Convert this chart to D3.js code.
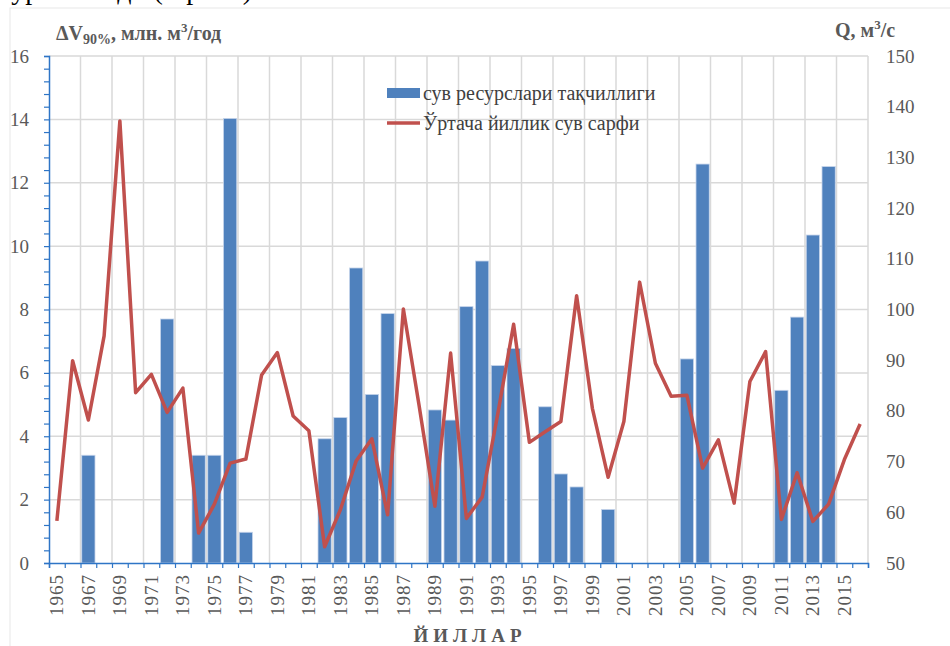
<!DOCTYPE html>
<html>
<head>
<meta charset="utf-8">
<script src="https://cdn.jsdelivr.net/npm/d3@7"></script>
<style>
  body { margin: 0; background: #fff; }
</style>
</head>
<body>
<svg width="950" height="646"></svg>
<script>
const years = d3.range(1965, 2017);
// сув ресурслари тақчиллиги, млн. м3/год (null = no deficit)
const deficit = [
  null, null, 3.4, null, null, null, null, 7.7, null, 3.4,
  3.4, 14.03, 0.97, null, null, null, null, 3.92, 4.59, 9.31,
  5.32, 7.87, null, null, 4.83, 4.51, 8.09, 9.53, 6.23, 6.77,
  null, 4.93, 2.81, 2.4, null, 1.69, null, null, null, null,
  6.44, 12.59, null, null, null, null, 5.45, 7.76, 10.35, 12.51,
  null, null
];
// Ўртача йиллик сув сарфи, м3/с
const discharge = [
  58.3, 89.9, 78.2, 94.8, 137.2, 83.6, 87.2, 79.7, 84.5, 55.9,
  61.6, 69.7, 70.5, 87.1, 91.5, 79.0, 76.1, 53.2, 60.5, 70.1,
  74.5, 59.5, 100.1, 81.0, 61.2, 91.4, 58.8, 63.0, 79.5, 97.1,
  73.8, 75.9, 77.9, 102.7, 80.5, 66.9, 77.9, 105.4, 89.4, 82.9,
  83.1, 68.7, 74.3, 61.8, 85.8, 91.7, 58.6, 67.8, 58.2, 61.6,
  70.4, 77.4
];
const leftTicks = d3.range(0, 17, 2);
const rightTicks = d3.range(50, 151, 10);
const legendLabels = ['сув ресурслари тақчиллиги', 'Ўртача йиллик сув сарфи'];

const svg = d3.select('svg');
const margin = { top: 56, right: 82, bottom: 83, left: 49 };
const width = 950, height = 646;
const innerWidth = width - margin.left - margin.right;
const innerHeight = height - margin.top - margin.bottom;

const blue = '#4F81BD';
const red = '#C0504D';
const axisBlue = '#2E75C6';
const grid = '#d9d9d9';
const textGray = '#595959';
const serif = "'Liberation Serif', 'Times New Roman', serif";

// chart frame
svg.append('rect')
  .attr('x', 10).attr('y', 8)
  .attr('width', 960).attr('height', 700)
  .attr('fill', 'none').attr('stroke', '#e8e8e8');

// document text above the chart, cropped by the page edge
svg.append('text')
  .attr('x', -2).attr('y', -1)
  .attr('font-size', 28).attr('fill', '#000')
  .text('курсатилади (5-расм)');

const g = svg.append('g').attr('transform', `translate(${margin.left},${margin.top})`);

const xScale = d3.scaleBand().domain(years).range([0, innerWidth])
  .paddingInner(0.16).paddingOuter(0.08);
const edge = d3.scaleLinear().domain([0, years.length]).range([0, innerWidth]);
const yLeft = d3.scaleLinear().domain([0, 16]).range([innerHeight, 0]);
const yRight = d3.scaleLinear().domain([50, 150]).range([innerHeight, 0]);

// horizontal gridlines
g.append('g').selectAll('line').data(leftTicks.slice(1)).join('line')
  .attr('x1', 0).attr('x2', innerWidth)
  .attr('y1', d => yLeft(d)).attr('y2', d => yLeft(d))
  .attr('stroke', grid).attr('stroke-width', 1.5);

// vertical gridlines every two years
g.append('g').selectAll('line').data(d3.range(2, years.length + 1, 2)).join('line')
  .attr('x1', d => edge(d)).attr('x2', d => edge(d))
  .attr('y1', 0).attr('y2', innerHeight)
  .attr('stroke', grid).attr('stroke-width', 1.5);

// bars
const barData = years.map((y, i) => ({ year: y, v: deficit[i] })).filter(d => d.v != null);
g.append('g').selectAll('rect').data(barData).join('rect')
  .attr('x', d => xScale(d.year))
  .attr('y', d => yLeft(d.v))
  .attr('width', xScale.bandwidth())
  .attr('height', d => yLeft(0) - yLeft(d.v))
  .attr('fill', blue)
  .attr('stroke', '#c5d4ea').attr('stroke-width', 0.8);

// line
const line = d3.line()
  .x((d, i) => xScale(years[i]) + xScale.bandwidth() / 2)
  .y(d => yRight(d));
g.append('path').datum(discharge)
  .attr('d', line)
  .attr('fill', 'none')
  .attr('stroke', red)
  .attr('stroke-width', 3.5)
  .attr('stroke-linejoin', 'round');

// left axis: minor ticks every 0.4, labels every 2
const yAxis = g.append('g')
  .call(d3.axisLeft(yLeft).tickValues(d3.range(0, 16.01, 0.4)).tickSize(5).tickPadding(15)
    .tickFormat(d => (Math.abs(d - Math.round(d)) < 1e-6 && Math.round(d) % 2 === 0) ? Math.round(d) : ''));
yAxis.select('.domain').attr('stroke', axisBlue).attr('stroke-width', 1.5);
yAxis.selectAll('.tick line').attr('stroke', axisBlue).attr('stroke-width', 1.2);
yAxis.selectAll('text').filter(function () { return this.textContent === ''; }).remove();
yAxis.selectAll('text').attr('font-size', 19).attr('fill', textGray);

// right axis (labels only)
const yAxisR = g.append('g').attr('transform', `translate(${innerWidth},0)`)
  .call(d3.axisRight(yRight).tickValues(rightTicks).tickSize(0).tickPadding(18));
yAxisR.select('.domain').remove();
yAxisR.selectAll('text').attr('font-size', 19).attr('fill', textGray);

// x axis ticks at every year boundary
const xTicks = g.append('g').attr('transform', `translate(0,${innerHeight})`)
  .call(d3.axisBottom(edge).tickValues(d3.range(0, years.length + 1)).tickSize(5).tickFormat(''));
xTicks.select('.domain').attr('stroke', axisBlue).attr('stroke-width', 1.5);
xTicks.selectAll('.tick line').attr('stroke', axisBlue).attr('stroke-width', 1.2);
xTicks.selectAll('text').remove();

// x labels, every other year, rotated
const xLabels = g.append('g').attr('transform', `translate(0,${innerHeight})`)
  .call(d3.axisBottom(xScale).tickValues(years.filter((y, i) => i % 2 === 0)).tickSize(0));
xLabels.select('.domain').remove();
xLabels.selectAll('text')
  .attr('transform', 'rotate(-90)')
  .attr('x', -11).attr('y', 0).attr('dy', '0.33em')
  .style('text-anchor', 'end')
  .attr('font-size', 19).attr('fill', textGray)
  .attr('letter-spacing', 1);

// axis titles
const leftTitle = svg.append('text')
  .attr('x', 56).attr('y', 40)
  .attr('font-size', 20).attr('font-weight', 'bold').attr('fill', textGray);
leftTitle.append('tspan').text('ΔV');
leftTitle.append('tspan').attr('font-size', 14).attr('dy', 4).text('90%');
leftTitle.append('tspan').attr('dy', -4).text(', млн. м');
leftTitle.append('tspan').attr('font-size', 13).attr('dy', -8).text('3');
leftTitle.append('tspan').attr('dy', 8).text('/год');

const rightTitle = svg.append('text')
  .attr('x', 835).attr('y', 37)
  .attr('font-size', 20).attr('font-weight', 'bold').attr('fill', textGray);
rightTitle.append('tspan').text('Q, м');
rightTitle.append('tspan').attr('font-size', 13).attr('dy', -8).text('3');
rightTitle.append('tspan').attr('dy', 8).text('/с');

svg.append('text')
  .attr('x', 470).attr('y', 642)
  .attr('text-anchor', 'middle')
  .attr('font-size', 19).attr('font-weight', 'bold').attr('fill', textGray)
  .attr('letter-spacing', 5)
  .text('ЙИЛЛАР');

// legend
const legend = svg.append('g').attr('transform', 'translate(387,0)');
legend.append('rect').attr('x', 0).attr('y', 88).attr('width', 33).attr('height', 10).attr('fill', blue);
legend.append('line').attr('x1', 0).attr('x2', 33).attr('y1', 123).attr('y2', 123)
  .attr('stroke', red).attr('stroke-width', 3.5);
legend.selectAll('text.lg').data(legendLabels).join('text')
  .attr('class', 'lg')
  .attr('x', 36).attr('y', (d, i) => 100 + i * 30)
  .attr('font-size', 20).attr('fill', '#404040')
  .text(d => d);

// serif everywhere, as in the original chart
svg.selectAll('g').attr('font-family', null);
svg.selectAll('text').style('font-family', serif);
</script>
</body>
</html>
